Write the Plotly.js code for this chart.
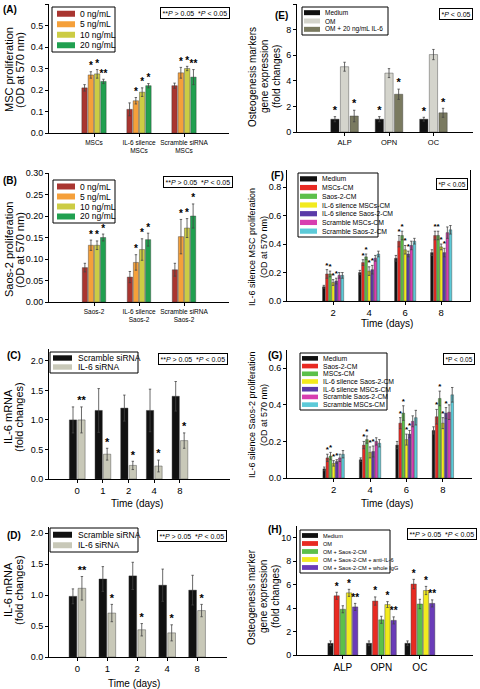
<!DOCTYPE html>
<html><head><meta charset="utf-8">
<script src="https://cdn.plot.ly/plotly-3.0.1.min.js"></script>
<style>html,body{margin:0;padding:0;background:#fff}#chart{width:480px;height:689px}</style>
</head><body><div id="chart"></div>
<script>
// ================= DATA =================
// (A) MSC proliferation
const A_categories = ['MSCs', 'IL-6 silence<br>MSCs', 'Scramble siRNA<br>MSCs'];
const A_series = ['0 ng/mL', '5 ng/mL', '10 ng/mL', '20 ng/mL'];
const A_values = [[0.21, 0.11, 0.22], [0.27, 0.15, 0.28], [0.275, 0.19, 0.30], [0.24, 0.22, 0.26]];
const A_errors = [[0.015, 0.03, 0.012], [0.015, 0.015, 0.025], [0.02, 0.02, 0.01], [0.01, 0.01, 0.035]];
const A_stars = [['', '', ''], ['*', '*', '*'], ['*', '*', '*'], ['**', '*', '**']];
// (B) Saos-2 proliferation
const B_categories = ['Saos-2', 'IL-6 silence<br>Saos-2', 'Scramble siRNA<br>Saos-2'];
const B_series = ['0 ng/mL', '5 ng/mL', '10 ng/mL', '20 ng/mL'];
const B_values = [[0.08, 0.058, 0.075], [0.132, 0.092, 0.152], [0.132, 0.122, 0.172], [0.15, 0.145, 0.2]];
const B_errors = [[0.01, 0.013, 0.015], [0.012, 0.018, 0.04], [0.01, 0.025, 0.022], [0.008, 0.015, 0.028]];
const B_stars = [['', '', ''], ['*', '*', '*'], ['*', '*', '*'], ['*', '*', '*']];
// (C) IL-6 mRNA
const C_categories = ['0', '1', '2', '4', '8'];
const C_series = ['Scramble siRNA', 'IL-6 siRNA'];
const C_values = [[1.0, 1.16, 1.2, 1.16, 1.4], [1.0, 0.42, 0.23, 0.22, 0.65]];
const C_errors = [[0.22, 0.37, 0.22, 0.36, 0.25], [0.22, 0.1, 0.07, 0.1, 0.13]];
const C_stars = [['', '', '', '', ''], ['**', '*', '*', '*', '*']];
// (D) IL-6 mRNA
const D_categories = ['0', '1', '2', '4', '8'];
const D_series = ['Scramble siRNA', 'IL-6 siRNA'];
const D_values = [[0.98, 1.26, 1.31, 1.16, 1.08], [1.11, 0.71, 0.44, 0.39, 0.75]];
const D_errors = [[0.12, 0.2, 0.22, 0.26, 0.24], [0.19, 0.14, 0.1, 0.13, 0.1]];
const D_stars = [['', '', '', '', ''], ['**', '*', '*', '*', '*']];
// (E) Osteogenesis markers
const E_categories = ['ALP', 'OPN', 'OC'];
const E_series = ['Medium', 'OM', 'OM + 20 ng/mL IL-6'];
const E_values = [[1.0, 1.0, 1.0], [5.1, 4.6, 6.05], [1.25, 2.95, 1.5]];
const E_errors = [[0.2, 0.2, 0.15], [0.35, 0.35, 0.4], [0.45, 0.4, 0.35]];
const E_stars = [['*', '*', '*'], ['', '', ''], ['*', '*', '*']];
// (F) IL-6 silence MSC proliferation
const F_categories = ['2', '4', '6', '8'];
const F_series = ['Medium', 'MSCs-CM', 'Saos-2-CM', 'IL-6 silence MSCs-CM', 'IL-6 silence Saos-2-CM', 'Scramble MSCs-CM', 'Scramble Saos-2-CM'];
const F_values = [[0.1, 0.2, 0.3, 0.34], [0.19, 0.27, 0.42, 0.46], [0.19, 0.31, 0.46, 0.46], [0.13, 0.21, 0.36, 0.38], [0.14, 0.22, 0.33, 0.34], [0.18, 0.3, 0.39, 0.48], [0.18, 0.33, 0.42, 0.5]];
const F_errors = [[0.01, 0.015, 0.02, 0.02], [0.03, 0.02, 0.04, 0.03], [0.02, 0.02, 0.03, 0.03], [0.02, 0.03, 0.03, 0.02], [0.02, 0.03, 0.02, 0.03], [0.02, 0.02, 0.03, 0.04], [0.02, 0.02, 0.02, 0.03]];
const F_stars = [['', '', '', ''], ['*', '*', '*', '*'], ['*', '*', '*', '*'], ['*', '*', '*', '*'], ['*', '*', '*', '*'], ['', '', '', ''], ['', '', '', '']];
// (G) IL-6 silence Saos-2 proliferation
const G_categories = ['2', '4', '6', '8'];
const G_series = ['Medium', 'Saos-2-CM', 'MSCs-CM', 'IL-6 silence Saos-2-CM', 'IL-6 silence MSCs-CM', 'Scramble Saos-2-CM', 'Scramble MSCs-CM'];
const G_values = [[0.05, 0.1, 0.18, 0.26], [0.11, 0.18, 0.3, 0.335], [0.12, 0.21, 0.355, 0.435], [0.08, 0.14, 0.21, 0.3], [0.09, 0.145, 0.24, 0.355], [0.11, 0.2, 0.31, 0.36], [0.13, 0.19, 0.33, 0.455]];
const G_errors = [[0.01, 0.01, 0.02, 0.02], [0.02, 0.02, 0.03, 0.04], [0.02, 0.02, 0.04, 0.04], [0.015, 0.03, 0.03, 0.03], [0.01, 0.03, 0.02, 0.03], [0.02, 0.02, 0.03, 0.04], [0.02, 0.02, 0.04, 0.04]];
const G_stars = [['', '', '', ''], ['*', '*', '*', '*'], ['*', '*', '*', '*'], ['*', '*', '*', '*'], ['*', '*', '*', '*'], ['', '', '', ''], ['', '', '', '']];
// (H) Osteogenesis marker
const H_categories = ['ALP', 'OPN', 'OC'];
const H_series = ['Medium', 'OM', 'OM + Saos-2-CM', 'OM + Saos-2-CM + anti-IL-6', 'OM + Saos-2-CM + whole IgG'];
const H_values = [[1.0, 1.0, 1.0], [5.05, 4.6, 6.05], [3.9, 3.0, 4.35], [5.3, 4.3, 5.5], [4.1, 2.95, 4.4]];
const H_errors = [[0.2, 0.2, 0.2], [0.3, 0.35, 0.4], [0.3, 0.3, 0.4], [0.3, 0.25, 0.35], [0.3, 0.3, 0.3]];
const H_stars = [['', '', ''], ['*', '*', '*'], ['', '', ''], ['*', '*', '*'], ['**', '**', '**']];

// ================= STYLE =================
const FONT = 'Liberation Sans, Arial, sans-serif';
const W = 480, HGT = 689;
const px = x => x / W, py = y => 1 - y / HGT;
const DOSE_COLORS = ['#a93530', '#f5a03a', '#cccc44', '#20a050'];
const SI_COLORS = ['#111111', '#c8c8b8'];
const E_COLORS = ['#111111', '#d4d4cc', '#7a7a60'];
const CM_COLORS = ['#111111', '#e82a22', '#5cc04a', '#f2ea1e', '#5a3aa8', '#d83eb0', '#5ccad8'];
const H_COLORS = ['#111111', '#e82a22', '#5cc04a', '#f2ea1e', '#6a3cb8'];
const PTXT2 = '**<i>P</i> > 0.05  *<i>P</i> < 0.05';
const PTXT1 = '*<i>P</i> < 0.05';

const panels = [
  {cats: A_categories, series: A_series, vals: A_values, errs: A_errors, stars: A_stars, colors: DOSE_COLORS,
   xpx: [49, 229], ypx: [4, 133], xr: [-1, 3], yr: [0, 0.6], dtick: 0.1, fmt: '.1f', group: 0.56, xtf: 6.5, sfs: 10,
   ytitle: ['MSC proliferation', '(OD at 570 nm)'], yt: {x: 9, y: 70, dx: 11, fs: 11},
   label: ['(A)', 10, 10], leg: {x0: 52, y0: 7, x1: 115, y1: 52, s0: 57, s1: 75, t: 78, fs: 8.5},
   pbox: {t: PTXT2, r: 230, top: 7, fs: 7}},
  {cats: B_categories, series: B_series, vals: B_values, errs: B_errors, stars: B_stars, colors: DOSE_COLORS,
   xpx: [49, 229], ypx: [173, 302], xr: [-1, 3], yr: [0, 0.3], dtick: 0.05, fmt: '.2f', group: 0.54, xtf: 6.5, sfs: 10,
   ytitle: ['Saos-2 proliferation', '(OD at 570 nm)'], yt: {x: 9, y: 250, dx: 11, fs: 11},
   label: ['(B)', 10, 181], leg: {x0: 53, y0: 180, x1: 115, y1: 223, s0: 57, s1: 75, t: 78, fs: 8.5},
   pbox: {t: PTXT2, r: 233, top: 176, fs: 7}},
  {cats: C_categories, series: C_series, vals: C_values, errs: C_errors, stars: C_stars, colors: SI_COLORS,
   xpx: [49, 230], ypx: [349, 479], xr: [-1.1, 5.95], yr: [0, 2.2], dtick: 0.5, fmt: '.1f', group: 0.66, xtf: 9.5, sfs: 11,
   ytitle: ['IL-6 mRNA', '(fold changes)'], yt: {x: 8, y: 417, dx: 11, fs: 11},
   xtitle: ['Time (days)', 137, 503],
   label: ['(C)', 14, 355], leg: {x0: 50, y0: 352, x1: 138, y1: 373, s0: 53, s1: 72, t: 76, fs: 8.5},
   pbox: {t: PTXT2, r: 228, top: 353, fs: 7}},
  {cats: D_categories, series: D_series, vals: D_values, errs: D_errors, stars: D_stars, colors: SI_COLORS,
   xpx: [49, 227], ypx: [527, 657], xr: [-0.95, 5], yr: [0, 2.1], dtick: 0.5, fmt: '.1f', group: 0.6, xtf: 9.5, sfs: 11,
   ytitle: ['IL-6 mRNA', '(fold changes)'], yt: {x: 8, y: 590, dx: 11, fs: 11},
   xtitle: ['Time (days)', 134, 683],
   label: ['(D)', 14, 535], leg: {x0: 50, y0: 528, x1: 138, y1: 552, s0: 53, s1: 72, t: 76, fs: 8.5},
   pbox: {t: PTXT2, r: 227, top: 530, fs: 7}},
  {cats: E_categories, series: E_series, vals: E_values, errs: E_errors, stars: E_stars, colors: E_COLORS,
   xpx: [297, 473], ypx: [4, 132], xr: [-1.07, 2.89], yr: [0, 10], dtick: 2, fmt: 'd', group: 0.65, xtf: 7.5, sfs: 11,
   ytitle: ['Osteogenesis markers', 'gene expression', '(fold changes)'], yt: {x: 252, y: 77, dx: 12, fs: 10},
   label: ['(E)', 281, 15], leg: {x0: 302, y0: 7, x1: 388, y1: 35, s0: 304, s1: 320, t: 323, fs: 6.5},
   pbox: {t: PTXT1, r: 473, top: 8, fs: 7}},
  {cats: F_categories, series: F_series, vals: F_values, errs: F_errors, stars: F_stars, colors: CM_COLORS,
   xpx: [287, 470], ypx: [170, 301], xr: [-1.28, 3.8], yr: [0, 0.92], dtick: 0.2, fmt: '.1f', group: 0.6, xtf: 9.5, sfs: 8,
   ytitle: ['IL-6 silence MSC proliferation', '(OD at 570 nm)'], yt: {x: 252, y: 247, dx: 12, fs: 9},
   xtitle: ['Time (days)', 387, 324], mirrorY: true,
   label: ['(F)', 277, 176], leg: {x0: 298, y0: 173, x1: 378, y1: 237, s0: 300, s1: 317, t: 320, fs: 6.8},
   pbox: {t: '*P < 0.05', r: 468, top: 178, fs: 6.5}},
  {cats: G_categories, series: G_series, vals: G_values, errs: G_errors, stars: G_stars, colors: CM_COLORS,
   xpx: [287, 472], ypx: [350, 478], xr: [-1.28, 3.8], yr: [0, 0.7], dtick: 0.2, fmt: '.1f', group: 0.6, xtf: 9.5, sfs: 8,
   ytitle: ['IL-6 silence Saos-2 proliferation', '(OD at 570 nm)'], yt: {x: 252, y: 415, dx: 12, fs: 9},
   xtitle: ['Time (days)', 387, 503],
   label: ['(G)', 275, 355], leg: {x0: 300, y0: 353, x1: 387, y1: 410, s0: 302, s1: 318, t: 321, fs: 6.8},
   pbox: {t: '*P < 0.05', r: 475, top: 353, fs: 6.5}},
  {cats: H_categories, series: H_series, vals: H_values, errs: H_errors, stars: H_stars, colors: H_COLORS,
   xpx: [297, 473], ypx: [526, 655], xr: [-1.19, 3.38], yr: [0, 11], dtick: 2, fmt: 'd', group: 0.8, xtf: 10, sfs: 10,
   ytitle: ['Osteogenesis marker', 'gene expression', '(fold changes)'], yt: {x: 251, y: 597, dx: 12, fs: 10},
   label: ['(H)', 275, 529], leg: {x0: 300, y0: 530, x1: 390, y1: 573, s0: 302, s1: 318, t: 321, fs: 5.6},
   pbox: {t: PTXT2, r: 477, top: 528, fs: 7}}
];

const traces = [];
const layout = {
  width: W, height: HGT, margin: {l: 0, r: 0, t: 0, b: 0},
  paper_bgcolor: '#fff', plot_bgcolor: 'rgba(0,0,0,0)',
  showlegend: false, barmode: 'overlay',
  font: {family: FONT, color: '#000'},
  shapes: [], annotations: []
};

panels.forEach((p, k) => {
  const s = k === 0 ? '' : String(k + 1);
  const xa = 'x' + s, ya = 'y' + s;
  const n = p.series.length;
  const w = p.group / n;
  const idx = p.cats.map((_, j) => j);
  p.series.forEach((name, i) => {
    const off = -p.group / 2 + i * w;
    traces.push({
      type: 'bar', name: name, x: idx, y: p.vals[i], xaxis: xa, yaxis: ya,
      width: w * 0.86, offset: off + w * 0.07,
      marker: {color: p.colors[i], line: {color: '#333', width: 0.4}},
      error_y: {type: 'data', array: p.errs[i], visible: true, color: '#444', thickness: 0.8, width: 1.2},
      hoverinfo: 'skip'
    });
    if (p.stars[i].some(t => t)) {
      traces.push({
        type: 'scatter', mode: 'text', xaxis: xa, yaxis: ya,
        x: idx.map(j => j + off + w / 2), y: p.vals[i].map((v, j) => v + p.errs[i][j]),
        text: p.stars[i], textposition: 'top center',
        textfont: {family: FONT, size: p.sfs, color: '#000', weight: 'bold'},
        cliponaxis: false, hoverinfo: 'skip'
      });
    }
  });
  layout['xaxis' + s] = {
    domain: [px(p.xpx[0]), px(p.xpx[1])], anchor: ya, range: p.xr,
    tickmode: 'array', tickvals: idx, ticktext: p.cats,
    showline: true, linecolor: '#000', linewidth: 1, ticks: 'outside', ticklen: 3, tickcolor: '#000',
    showgrid: false, zeroline: false, tickfont: {size: p.xtf, color: '#000'}, fixedrange: true
  };
  layout['yaxis' + s] = {
    domain: [py(p.ypx[1]), py(p.ypx[0])], anchor: xa, range: p.yr, dtick: p.dtick, tick0: 0,
    tickformat: p.fmt, showline: true, linecolor: '#000', linewidth: 1, ticks: 'outside', ticklen: 3,
    mirror: p.mirrorY ? true : false,
    tickcolor: '#000', showgrid: false, zeroline: false, tickfont: {size: 9, color: '#000'}, fixedrange: true
  };
  // y title lines
  p.ytitle.forEach((t, li) => layout.annotations.push({
    text: t, xref: 'paper', yref: 'paper', x: px(p.yt.x + li * p.yt.dx), y: py(p.yt.y),
    textangle: -90, showarrow: false, xanchor: 'center', yanchor: 'middle',
    font: {size: p.yt.fs, color: '#000'}
  }));
  if (p.xtitle) layout.annotations.push({
    text: p.xtitle[0], xref: 'paper', yref: 'paper', x: px(p.xtitle[1]), y: py(p.xtitle[2]),
    showarrow: false, xanchor: 'center', yanchor: 'middle', font: {size: 10, color: '#000'}
  });
  // panel label
  layout.annotations.push({
    text: '<b>' + p.label[0] + '</b>', xref: 'paper', yref: 'paper', x: px(p.label[1]), y: py(p.label[2]),
    showarrow: false, xanchor: 'center', yanchor: 'middle', font: {size: 10, color: '#000'}
  });
  // P-value box
  layout.annotations.push({
    text: p.pbox.t, xref: 'paper', yref: 'paper', x: px(p.pbox.r), y: py(p.pbox.top),
    showarrow: false, xanchor: 'right', yanchor: 'top', bordercolor: '#000', borderwidth: 1, borderpad: 1.5,
    bgcolor: '#fff', font: {size: p.pbox.fs, color: '#000'}
  });
  // legend box
  const L = p.leg;
  layout.shapes.push({type: 'rect', xref: 'paper', yref: 'paper', x0: px(L.x0), x1: px(L.x1),
    y0: py(L.y1), y1: py(L.y0), line: {color: '#000', width: 1}, fillcolor: '#fff', layer: 'above'});
  const rowH = (L.y1 - L.y0 - 3) / n;
  const sh = Math.min(rowH * 0.6, 6);
  p.series.forEach((name, i) => {
    const cy = L.y0 + 1.5 + rowH * (i + 0.5);
    layout.shapes.push({type: 'rect', xref: 'paper', yref: 'paper', x0: px(L.s0), x1: px(L.s1),
      y0: py(cy + sh / 2), y1: py(cy - sh / 2), line: {width: 0}, fillcolor: p.colors[i], layer: 'above'});
    layout.annotations.push({text: name, xref: 'paper', yref: 'paper', x: px(L.t), y: py(cy),
      showarrow: false, xanchor: 'left', yanchor: 'middle', font: {size: L.fs, color: '#000'}});
  });
});

Plotly.newPlot('chart', traces, layout, {staticPlot: true, displayModeBar: false});
</script></body></html>
